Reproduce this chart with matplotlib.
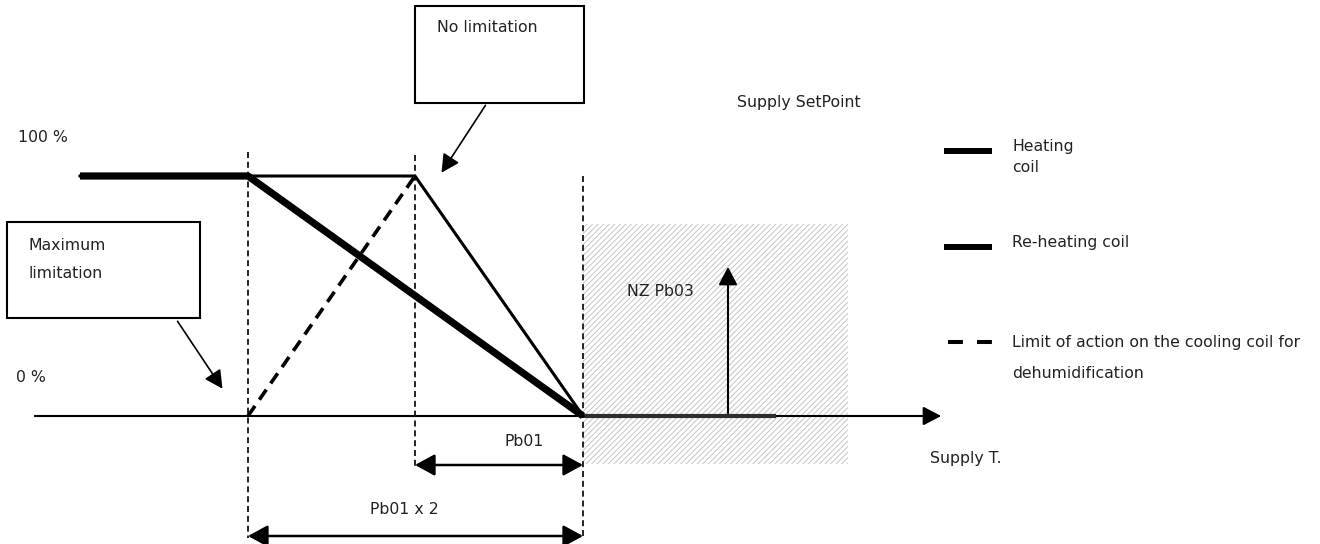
import numpy as np
import matplotlib
matplotlib.use('Agg')
import matplotlib.pyplot as plt
from matplotlib.patches import Rectangle

# diagram geometry in picture pixels (x to the right, y downwards)
y_full, y_zero = 176, 416
x_start, x_pb2, x_pb1, x_sp = 80, 248, 415, 583
heating_x = [x_start, x_pb2, x_pb1, x_sp]
heating_y = [y_full, y_full, y_full, y_zero]
reheat_x = [x_start, x_pb2, x_sp]
reheat_y = [y_full, y_full, y_zero]
limit_x = [x_pb2, x_pb1]
limit_y = [y_zero, y_full]
nz_box = [583, 224, 265, 240]   # x, y, w, h
setpoint_x = 728

fs = 11.3
plt.rcParams['font.family'] = ['DejaVu Sans']
plt.rcParams['hatch.linewidth'] = 0.7

head = '-|>,head_length=0.5,head_width=0.26'
dhead = '<|-|>,head_length=0.55,head_width=0.3'
guide = (0, (3.6, 2.3))

fig = plt.figure(figsize=(13.2, 5.44), dpi=100)
ax = fig.add_axes([0, 0, 1, 1])
ax.set_xlim(0, 1320)
ax.set_ylim(544, 0)
ax.axis('off')

# neutral zone hatched area
ax.add_patch(Rectangle((nz_box[0], nz_box[1]), nz_box[2], nz_box[3], facecolor='white',
                       edgecolor='#c4c4c4', hatch='//////', lw=0, zorder=1))
ax.text(627, 292, 'NZ Pb03', fontsize=fs, va='center', color='#222222', zorder=5)

# x axis with arrow
ax.annotate('', xy=(944, y_zero), xytext=(32, y_zero),
            arrowprops=dict(arrowstyle=head, lw=1.5, color='black', mutation_scale=22), zorder=3)
ax.plot([x_sp, 776], [y_zero, y_zero], color='#2e2e2e', lw=3, solid_capstyle='butt', zorder=3)
# setpoint axis
ax.annotate('', xy=(setpoint_x, 264), xytext=(setpoint_x, y_zero),
            arrowprops=dict(arrowstyle=head, lw=1.5, color='black', mutation_scale=22), zorder=3)
ax.text(737, 103, 'Supply SetPoint', fontsize=fs, va='center', color='#222222')
ax.text(930, 458, 'Supply T.', fontsize=fs, va='center', color='#222222')

# vertical dashed guides
ax.plot([x_pb2, x_pb2], [152, 538], color='black', lw=1.2, ls=guide, zorder=2)
ax.plot([x_pb1, x_pb1], [155, 467], color='black', lw=1.2, ls=guide, zorder=2)
ax.plot([x_sp, x_sp], [176, 538], color='black', lw=1.2, ls=guide, zorder=2)

# curves
ax.plot(heating_x, heating_y, color='black', lw=2.2, solid_joinstyle='miter', zorder=4)
ax.plot(reheat_x, reheat_y, color='black', lw=5.2, solid_capstyle='butt', zorder=4)
ax.plot(limit_x, limit_y, color='black', lw=2.6, ls=(0, (3.4, 2.1)), zorder=4)

ax.text(18, 137, '100 %', fontsize=fs, va='center', color='#222222')
ax.text(16, 378, '0 %', fontsize=fs, va='center', color='#222222')

# callout boxes
ax.add_patch(Rectangle((7, 222), 193, 96, facecolor='white', edgecolor='black', lw=1.5, zorder=5))
ax.text(28, 245, 'Maximum', fontsize=fs, va='center', color='#222222', zorder=6)
ax.text(28, 274, 'limitation', fontsize=fs, va='center', color='#222222', zorder=6)
ax.annotate('', xy=(224, 391), xytext=(176, 319),
            arrowprops=dict(arrowstyle=head, lw=1.2, color='black', mutation_scale=22))

ax.add_patch(Rectangle((415, 6), 169, 97, facecolor='white', edgecolor='black', lw=1.5, zorder=5))
ax.text(437, 28, 'No limitation', fontsize=fs, va='center', color='#222222', zorder=6)
ax.annotate('', xy=(440, 175), xytext=(487, 103),
            arrowprops=dict(arrowstyle=head, lw=1.2, color='black', mutation_scale=22))

# dimension arrows
ax.annotate('', xy=(x_sp, 465), xytext=(x_pb1, 465),
            arrowprops=dict(arrowstyle=dhead, lw=1.8, color='black', mutation_scale=22, shrinkA=0, shrinkB=0))
ax.text(505, 441, 'Pb01', fontsize=fs, va='center', color='#222222')
ax.annotate('', xy=(x_sp, 536), xytext=(x_pb2, 536),
            arrowprops=dict(arrowstyle=dhead, lw=1.8, color='black', mutation_scale=22, shrinkA=0, shrinkB=0))
ax.text(370, 509, 'Pb01 x 2', fontsize=fs, va='center', color='#222222')

# legend
ax.plot([944, 992], [151, 151], color='black', lw=4.3, solid_capstyle='butt')
ax.text(1012, 146, 'Heating', fontsize=fs, va='center', color='#222222')
ax.text(1012, 167, 'coil', fontsize=fs, va='center', color='#222222')
ax.plot([944, 992], [247, 247], color='black', lw=4.3, solid_capstyle='butt')
ax.text(1012, 242, 'Re-heating coil', fontsize=fs, va='center', color='#222222')
ax.plot([948, 992], [342, 342], color='black', lw=2.9, ls=(0, (3.7, 3.5)), dash_capstyle='butt')
ax.text(1012, 343, 'Limit of action on the cooling coil for', fontsize=fs, va='center', color='#222222')
ax.text(1012, 373, 'dehumidification', fontsize=fs, va='center', color='#222222')

plt.savefig('out.png', dpi=100)
